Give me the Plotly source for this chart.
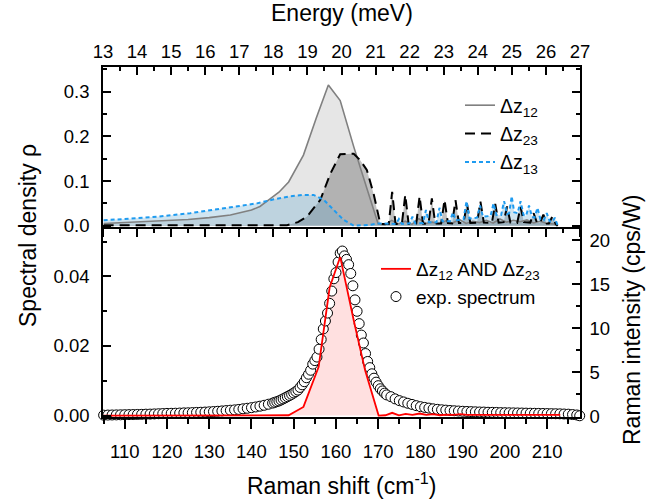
import plotly.graph_objects as go

MEV_TO_CM = 8.0655  # 1 meV expressed in cm^-1
E_MIN, E_MAX = 13, 27
X_MIN, X_MAX = E_MIN * MEV_TO_CM, E_MAX * MEV_TO_CM

# ---- top panel: spectral densities (Raman shift in cm^-1) ----
dz12_x = [105, 110, 115, 120, 125, 130, 135, 140, 142, 144.4,
          146.5, 148.8, 152.3, 155.3, 158.2, 161.0, 164.2, 167.7, 170.0,
          171.6, 173.2, 174.8, 176.4, 178.0, 179.6, 181.2, 182.8, 184.4, 186.0,
          187.6, 189.2, 190.8, 192.4, 194.0, 195.6, 197.2, 198.8, 200.4, 202.0,
          203.6, 205.2, 206.8, 208.4, 210.0, 211.6, 212.4]
dz12_y = [0.005, 0.007, 0.009, 0.011, 0.014, 0.018, 0.024, 0.035, 0.043, 0.060,
          0.075, 0.098, 0.158, 0.240, 0.315, 0.280, 0.177, 0.072, 0.004,
          0.002, 0.012, 0.004, 0.010, 0.003, 0.016, 0.005, 0.008, 0.004, 0.011,
          0.006, 0.014, 0.005, 0.010, 0.007, 0.012, 0.006, 0.015, 0.008, 0.012,
          0.009, 0.013, 0.006, 0.010, 0.005, 0.004, 0.000]

dz23_x = [105, 120, 135, 145, 148.4, 151.0, 153.1, 156.3, 158.7, 161.0,
          164.2, 165.7, 167.3, 168.9, 169.7, 170.5, 171.5,
          172.5, 173.3, 174.1, 175.6, 176.4, 177.2, 179.0, 179.8, 180.6,
          181.9, 182.7, 183.5, 184.9, 185.7, 186.5, 187.5, 188.3, 189.1,
          190.2, 191.0, 191.8, 193.4, 194.2, 195.0, 196.9, 197.7, 198.5,
          199.7, 200.5, 201.3, 202.9, 203.7, 204.5, 206.0, 206.8, 207.6,
          208.3, 209.1, 209.9, 210.4, 211.2, 212.0, 212.5]
dz23_y = [0.001, 0.001, 0.001, 0.001, 0.001, 0.008, 0.020, 0.058, 0.117, 0.160,
          0.161, 0.147, 0.125, 0.072, 0.035, 0.004, 0.004,
          0.004, 0.076, 0.004, 0.004, 0.069, 0.004, 0.005, 0.066, 0.005,
          0.004, 0.061, 0.005, 0.005, 0.058, 0.006, 0.005, 0.057, 0.006,
          0.006, 0.050, 0.006, 0.007, 0.054, 0.007, 0.006, 0.049, 0.007,
          0.008, 0.043, 0.007, 0.006, 0.042, 0.008, 0.007, 0.028, 0.006,
          0.006, 0.025, 0.005, 0.005, 0.020, 0.004, 0.000]

dz13_x = [105, 110, 117.6, 125.5, 133.4, 141.3, 145.3, 149.2, 152.3, 154.7,
          157.1, 159.5, 161.8, 164.2, 168.1, 170.1, 171.7,
          174.2, 174.9, 175.6, 177.4, 178.1, 178.8, 180.6, 181.3, 182.0,
          183.8, 184.5, 185.2, 187.0, 187.7, 188.4, 190.2, 190.9, 191.6,
          193.4, 194.1, 194.8, 196.6, 197.3, 198.0, 199.1, 199.8, 200.5,
          201.0, 201.6, 202.2, 203.0, 203.7, 204.4, 205.0, 205.7, 206.4,
          207.0, 207.7, 208.4, 209.2, 209.9, 210.6, 211.2, 211.8, 212.5]
dz13_y = [0.012, 0.015, 0.020, 0.028, 0.039, 0.050, 0.059, 0.066, 0.069, 0.069,
          0.058, 0.035, 0.013, 0.000, 0.002, 0.005, 0.004,
          0.004, 0.015, 0.004, 0.005, 0.020, 0.005, 0.006, 0.035, 0.008,
          0.008, 0.040, 0.010, 0.010, 0.030, 0.012, 0.014, 0.055, 0.016,
          0.018, 0.045, 0.020, 0.022, 0.050, 0.024, 0.024, 0.055, 0.026,
          0.028, 0.066, 0.030, 0.028, 0.055, 0.024, 0.022, 0.045, 0.020,
          0.018, 0.040, 0.014, 0.012, 0.028, 0.010, 0.008, 0.018, 0.000]

# ---- bottom panel: joint density and measured spectrum ----
joint_x = [105, 130, 145, 148.8, 152.3, 155.9, 158.5, 161.0, 164.2, 166.9,
           170.1, 171.7, 173.3, 174.9, 176.5, 178.1, 179.8, 181.4, 183.0, 184.6,
           186.2, 187.8, 189.5, 191.1, 194.3, 197.5, 200.7, 204.0, 207.2, 210.4,
           213.1]
joint_y = [0.0, 0.0, 0.0, 0.0001, 0.0025, 0.0140, 0.0368, 0.0456, 0.0274, 0.0130,
           0.0000, 0.0001, 0.0008, 0.0001, 0.0005, 0.0002, 0.0006, 0.0002, 0.0004, 0.0001,
           0.0003, 0.0002, 0.0004, 0.0002, 0.0002, 0.0002, 0.0002, 0.0002, 0.0002, 0.0002,
           0.0002]

spec_x = [105, 106, 107, 108, 109, 110, 111, 112, 113, 114,
          115, 116, 117, 118, 119, 120, 121, 122, 123, 124,
          125, 126, 127, 128, 129, 130, 131, 132, 133, 134,
          135, 136, 137, 138, 139, 140, 141, 142, 143, 144, 145,
          145.5, 146, 146.5, 147, 147.5, 148, 148.5, 149, 149.5, 150,
          150.5, 151, 151.5, 152, 152.5, 153, 153.5, 154, 154.5, 155,
          155.5, 156, 156.5, 157, 157.5, 158, 158.5, 159, 159.5, 160,
          160.5, 161, 161.5, 162, 162.5, 163, 163.5, 164, 164.5, 165,
          165.5, 166, 166.5, 167, 167.5, 168, 168.5, 169, 169.5, 170,
          170.5, 171, 171.5, 172,
          173, 174, 175, 176, 177, 178, 179, 180, 181, 182,
          183, 184, 185, 186, 187, 188, 189, 190, 191, 192,
          193, 194, 195, 196, 197, 198, 199, 200, 201, 202,
          203, 204, 205, 206, 207, 208, 209, 210, 211, 212,
          213, 214, 215, 216, 217, 217.7]
spec_y = [0.10, 0.11, 0.12, 0.13, 0.14, 0.15, 0.16, 0.17, 0.18, 0.19,
          0.21, 0.22, 0.24, 0.26, 0.28, 0.30, 0.31, 0.32, 0.34, 0.36,
          0.37, 0.39, 0.41, 0.43, 0.45, 0.48, 0.51, 0.54, 0.58, 0.62,
          0.66, 0.70, 0.75, 0.82, 0.88, 0.95, 1.03, 1.12, 1.22, 1.34, 1.47,
          1.55, 1.63, 1.72, 1.83, 1.95, 2.07, 2.20, 2.33, 2.47, 2.62,
          2.78, 2.95, 3.25, 3.55, 3.90, 4.35, 4.75, 5.20, 5.90, 6.30,
          6.70, 7.60, 8.70, 9.90, 10.8, 11.7, 12.8, 14.2, 15.6, 16.3,
          17.5, 18.5, 18.75, 18.2, 17.8, 17.2, 16.2, 14.8, 13.2, 11.9,
          10.5, 9.2, 8.3, 7.1, 6.2, 5.5, 4.8, 4.3, 3.85, 3.45,
          3.10, 2.85, 2.60, 2.40,
          2.20, 1.95, 1.75, 1.60, 1.45, 1.32, 1.18, 1.06, 0.98, 0.90,
          0.82, 0.76, 0.71, 0.67, 0.63, 0.60, 0.57, 0.54, 0.52, 0.50,
          0.48, 0.46, 0.45, 0.43, 0.42, 0.41, 0.39, 0.38, 0.37, 0.36,
          0.35, 0.34, 0.33, 0.32, 0.31, 0.30, 0.29, 0.28, 0.27, 0.26,
          0.25, 0.23, 0.21, 0.17, 0.12, 0.03]

FONT = "Liberation Sans, Arial, Helvetica, sans-serif"
TICK = 18.5
TITLE = 23
W, H = 662, 503
ML, MR, MT, MB = 103, 82, 67, 86
PH = H - MT - MB
PW = W - ML - MR
SPLIT = 190 / PH  # bottom panel fraction

fig = go.Figure()

# filled areas of the top panel
fig.add_trace(go.Scatter(x=dz12_x, y=dz12_y, xaxis="x2", yaxis="y2", mode="none",
                         fill="tozeroy", fillcolor="rgba(128,128,128,0.20)",
                         showlegend=False, hoverinfo="skip"))
fig.add_trace(go.Scatter(x=dz23_x, y=dz23_y, xaxis="x2", yaxis="y2", mode="none",
                         fill="tozeroy", fillcolor="rgba(80,80,80,0.35)",
                         showlegend=False, hoverinfo="skip"))
fig.add_trace(go.Scatter(x=dz13_x, y=dz13_y, xaxis="x2", yaxis="y2", mode="none",
                         fill="tozeroy", fillcolor="rgba(100,170,210,0.30)",
                         showlegend=False, hoverinfo="skip"))
# curves of the top panel
fig.add_trace(go.Scatter(x=dz12_x, y=dz12_y, xaxis="x2", yaxis="y2", mode="lines",
                         line=dict(color="#808080", width=1.6),
                         name="Δz<sub>12</sub>", legend="legend", legendgroup="a"))
fig.add_trace(go.Scatter(x=dz23_x, y=dz23_y, xaxis="x2", yaxis="y2", mode="lines",
                         line=dict(color="black", width=2, dash="10px,6px"),
                         name="Δz<sub>23</sub>", legend="legend", legendgroup="b"))
fig.add_trace(go.Scatter(x=dz13_x, y=dz13_y, xaxis="x2", yaxis="y2", mode="lines",
                         line=dict(color="rgb(30,155,240)", width=2, dash="4px,3px"),
                         name="Δz<sub>13</sub>", legend="legend", legendgroup="c"))

# bottom panel
fig.add_trace(go.Scatter(x=joint_x, y=joint_y, xaxis="x", yaxis="y", mode="none",
                         fill="tozeroy", fillcolor="rgba(255,0,0,0.12)",
                         showlegend=False, hoverinfo="skip"))
fig.add_trace(go.Scatter(x=spec_x, y=spec_y, xaxis="x", yaxis="y3", mode="markers",
                         marker=dict(symbol="circle", size=10, color="white",
                                     line=dict(color="black", width=1)),
                         cliponaxis=False,
                         name="exp. spectrum", legend="legend2", legendgroup="e"))
fig.add_trace(go.Scatter(x=joint_x, y=joint_y, xaxis="x", yaxis="y4", mode="lines",
                         line=dict(color="red", width=1.8),
                         name="Δz<sub>12</sub> AND Δz<sub>23</sub>",
                         legend="legend2", legendgroup="d", legendrank=1))

# empty traces so the energy axes are drawn
fig.add_trace(go.Scatter(x=[], y=[], xaxis="x3", yaxis="y2", showlegend=False))
fig.add_trace(go.Scatter(x=[], y=[], xaxis="x4", yaxis="y2", showlegend=False))

axis_common = dict(showline=True, linecolor="black", linewidth=1.6, showgrid=False,
                   zeroline=False, tickcolor="black", tickwidth=1.5,
                   tickfont=dict(family=FONT, size=TICK, color="black"))

fig.update_layout(
    width=W, height=H,
    margin=dict(l=ML, r=MR, t=MT, b=MB, pad=0),
    paper_bgcolor="white", plot_bgcolor="white",
    font=dict(family=FONT, color="black"),
    xaxis=dict(domain=[0, 1], anchor="y", range=[X_MIN, X_MAX],
               ticks="outside", ticklen=10, dtick=10, tick0=0, ticklabelstandoff=7,
               minor=dict(ticks="outside", ticklen=5, dtick=5, tickcolor="black", tickwidth=1.5),
               **axis_common),
    xaxis2=dict(domain=[0, 1], anchor="y2", matches="x", visible=False),
    xaxis3=dict(overlaying="x2", anchor="y2", side="top", range=[E_MIN, E_MAX],
                ticks="inside", ticklen=8, dtick=1, tick0=0,
                minor=dict(ticks="inside", ticklen=4, dtick=0.5, tickcolor="black", tickwidth=1.5),
                **axis_common),
    xaxis4=dict(overlaying="x2", anchor="y2", side="bottom", range=[E_MIN, E_MAX],
                ticks="outside", ticklen=8, dtick=1, tick0=0, showticklabels=False,
                minor=dict(ticks="outside", ticklen=4, dtick=0.5, tickcolor="black", tickwidth=1.5),
                **axis_common),
    yaxis=dict(domain=[0, SPLIT], anchor="x", range=[-0.0004, 0.0542],
               ticks="inside", ticklen=8, dtick=0.02, tick0=0, tickformat=".2f",
               minor=dict(ticks="inside", ticklen=4, dtick=0.01, tickcolor="black", tickwidth=1.5),
               ticklabelstandoff=8, **axis_common),
    yaxis2=dict(domain=[SPLIT, 1], anchor="x2", range=[-0.0029, 0.3553],
                ticks="inside", ticklen=8, dtick=0.1, tick0=0, tickformat=".1f",
                mirror="ticks",
                minor=dict(ticks="inside", ticklen=4, dtick=0.05, tickcolor="black", tickwidth=1.5),
                ticklabelstandoff=8, **axis_common),
    yaxis3=dict(overlaying="y", anchor="x", side="right", range=[-0.11, 21.48],
                ticks="inside", ticklen=8, dtick=5, tick0=0,
                minor=dict(ticks="inside", ticklen=4, dtick=2.5, tickcolor="black", tickwidth=1.5),
                ticklabelstandoff=4, **axis_common),
    yaxis4=dict(overlaying="y", anchor="x", range=[-0.0004, 0.0542], visible=False),
    legend=dict(x=(466 - ML - 6) / PW, y=(H - MB - 86) / PH,
                xanchor="left", yanchor="top", bgcolor="rgba(0,0,0,0)",
                font=dict(family=FONT, size=19.5, color="black"),
                tracegroupgap=10, itemwidth=30, traceorder="normal"),
    legend2=dict(x=(382 - ML - 6) / PW, y=(H - MB - 250) / PH,
                 xanchor="left", yanchor="top", bgcolor="rgba(0,0,0,0)",
                 font=dict(family=FONT, size=19, color="black"),
                 tracegroupgap=9, itemwidth=30, traceorder="normal"),
    showlegend=True,
    hovermode=False,
)


def px_x(p):
    return (p - ML) / PW


def px_y(p):
    return (H - MB - p) / PH


title_font = dict(family=FONT, size=TITLE, color="black")
annotations = [
    dict(text="Energy (meV)", x=0.5, y=px_y(13), xref="paper", yref="paper",
         showarrow=False, font=title_font, xanchor="center", yanchor="middle"),
    dict(text="Raman shift (cm<sup>-1</sup>)", x=0.5, y=px_y(484), xref="paper", yref="paper",
         showarrow=False, font=title_font, xanchor="center", yanchor="middle"),
    dict(text="Spectral density ρ", x=px_x(28), y=px_y(236), xref="paper", yref="paper",
         showarrow=False, font=title_font, textangle=-90, xanchor="center", yanchor="middle"),
    dict(text="Raman intensity (cps/W)", x=px_x(632), y=px_y(320), xref="paper", yref="paper",
         showarrow=False, font=title_font, textangle=-90, xanchor="center", yanchor="middle"),
]
fig.update_layout(annotations=annotations)

fig.write_html("out.html")
